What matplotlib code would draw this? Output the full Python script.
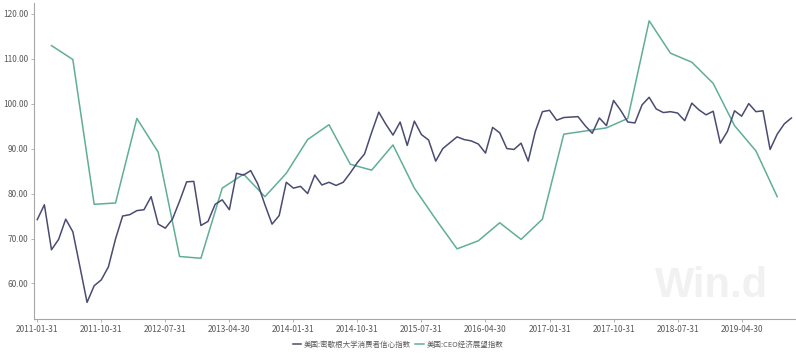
import matplotlib
matplotlib.use("Agg")
import matplotlib.pyplot as plt
import pandas as pd

plt.rcParams['font.family'] = ['Noto Sans CJK SC', 'DejaVu Sans']

# Monthly dates (categories)
months = pd.date_range('2011-01-31', '2019-11-30', freq='ME')
month_labels = [d.strftime('%Y-%m-%d') for d in months]

# 美国:密歇根大学消费者信心指数 (monthly)
michigan = [
    74.2, 77.5, 67.5, 69.8, 74.3, 71.5, 63.7, 55.8, 59.5, 60.8, 63.7, 69.9,
    75.0, 75.3, 76.2, 76.4, 79.3, 73.2, 72.3, 74.3, 78.3, 82.6, 82.7, 72.9,
    73.8, 77.6, 78.6, 76.4, 84.5, 84.1, 85.1, 82.1, 77.5, 73.2, 75.1, 82.5,
    81.2, 81.6, 80.0, 84.1, 81.9, 82.5, 81.8, 82.5, 84.6, 86.9, 88.8, 93.6,
    98.1, 95.4, 93.0, 95.9, 90.7, 96.1, 93.1, 91.9, 87.2, 90.0, 91.3, 92.6,
    92.0, 91.7, 91.0, 89.0, 94.7, 93.5, 90.0, 89.8, 91.2, 87.2, 93.8, 98.2,
    98.5, 96.3, 96.9, 97.0, 97.1, 95.1, 93.4, 96.8, 95.1, 100.7, 98.5, 95.9,
    95.7, 99.7, 101.4, 98.8, 98.0, 98.2, 97.9, 96.2, 100.1, 98.6, 97.5, 98.3,
    91.2, 93.8, 98.4, 97.2, 100.0, 98.2, 98.4, 89.8, 93.2, 95.5, 96.8,
]

# 美国:CEO经济展望指数 (quarterly)
ceo_dates = pd.date_range('2011-03-31', '2019-09-30', freq='QE')
ceo = [
    112.9, 109.8, 77.6, 77.9,
    96.7, 89.2, 66.0, 65.6,
    81.2, 84.3, 79.3, 84.5,
    92.0, 95.3, 86.5, 85.2,
    90.8, 81.2, 74.3, 67.7,
    69.5, 73.5, 69.8, 74.3,
    93.2, 93.9, 94.6, 96.7,
    118.4, 111.2, 109.2, 104.5,
    95.1, 89.5, 79.3,
]

yticks = [60, 70, 80, 90, 100, 110, 120]
xtick_idx = list(range(0, len(months), 9))

W, H = 796, 354
fig = plt.figure(figsize=(W / 100, H / 100), dpi=100)
ax = fig.add_axes([33.7 / W, 1 - 319 / H, (795 - 33.7) / W, (319 - 3.3) / H])

pos_map = {d: i for i, d in enumerate(months)}
ceo_x = [pos_map[d] for d in ceo_dates]
mich_x = list(range(len(michigan)))

c_mich = '#4a4b72'
c_ceo = '#60ae98'
ax.plot(mich_x, michigan, color=c_mich, lw=1.1, label='美国:密歇根大学消费者信心指数', zorder=3)
ax.plot(ceo_x, ceo, color=c_ceo, lw=1.1, label='美国:CEO经济展望指数', zorder=2)

ax.set_xlim(-0.5, len(months) - 0.5)
ax.set_ylim(52.1, 122.3)
ax.set_yticks(yticks)
ax.set_yticklabels([f'{v:.2f}' for v in yticks])
ax.set_xticks(xtick_idx)
ax.set_xticklabels([month_labels[i] for i in xtick_idx])

for s in ['top', 'right']:
    ax.spines[s].set_visible(False)
for s in ['left', 'bottom']:
    ax.spines[s].set_color('#a6a6a6')
    ax.spines[s].set_linewidth(0.8)

ax.tick_params(axis='both', colors='#a6a6a6', labelcolor='#595959',
               labelsize=6.0, length=2.5, width=0.6, pad=1.5)

fig.text(655 / W, 1 - 297 / H, 'Win.d', family='Liberation Sans', fontweight='bold',
         fontsize=30, color='#f1f1f1', va='baseline', ha='left', zorder=0)

leg = fig.legend(loc='center', bbox_to_anchor=(0.5, 1 - 345 / H), ncol=2, frameon=False,
                 fontsize=5.4, handlelength=1.1, handletextpad=0.4, columnspacing=0.6,
                 labelcolor='#595959')

fig.savefig('out.png', dpi=100)
